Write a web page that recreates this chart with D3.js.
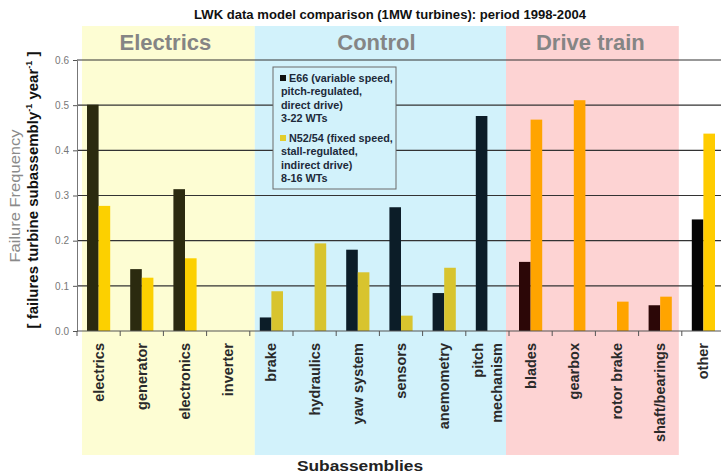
<!DOCTYPE html>
<html>
<head>
<meta charset="utf-8">
<script src="https://cdn.jsdelivr.net/npm/d3@7"></script>
<style>
  html, body { margin: 0; padding: 0; background: #fff; }
  svg { display: block; }
</style>
</head>
<body>
<svg id="chart" width="721" height="474"></svg>
<script>
// ---- data ----
const categories = ["electrics", "generator", "electronics", "inverter", "brake", "hydraulics",
  "yaw system", "sensors", "anemometry", "pitch mechanism", "blades", "gearbox",
  "rotor brake", "shaft/bearings", "other"];
const seriesNames = ["E66", "N52/54"];
const e66Values = [0.501, 0.137, 0.314, 0, 0.030, 0, 0.180, 0.274, 0.084, 0.476, 0.153, 0, 0, 0.057, 0.247];
const n52Values = [0.277, 0.118, 0.161, 0, 0.088, 0.194, 0.130, 0.034, 0.140, 0, 0.468, 0.511, 0.065, 0.076, 0.437];
const groupNames = ["Electrics", "Control", "Drive train"];
const groupFirst = ["electrics", "brake", "blades"];
const groupLast = ["inverter", "pitch mechanism", "shaft/bearings"];
const yTicks = [0, 0.1, 0.2, 0.3, 0.4, 0.5, 0.6];
const legendLines = [
  ["E66 (variable speed,", "pitch-regulated,", "direct drive)", "3-22 WTs"],
  ["N52/54 (fixed speed,", "stall-regulated,", "indirect drive)", "8-16 WTs"]
];
const titleText = "LWK data model comparison (1MW turbines): period 1998-2004";

// ---- styles ----
const groupFill = { "Electrics": "#fdfdd3", "Control": "#d2f2fb", "Drive train": "#fdd3d3" };
const barColors = {
  "Electrics": ["#2b2a0f", "#fcd000"],
  "Control": ["#0c1d28", "#d8c42e"],
  "Drive train": ["#2c0707", "#ffa400"],
  "none": ["#050505", "#ffcc00"]
};
const FONT = "Liberation Sans, Arial, sans-serif";

const svg = d3.select("#chart");
const W = 721;
const x0 = 77, step = 43.2;
const x = d3.scaleBand().domain(categories).range([x0, x0 + step * categories.length]).padding(0);
const xs = d3.scaleBand().domain(seriesNames).range([10, x.bandwidth() - 10]).padding(0);
const y = d3.scaleLinear().domain([0, 0.6]).range([331, 60]);

function groupOf(c) {
  const i = categories.indexOf(c);
  for (let g = 0; g < groupNames.length; g++) {
    const a = categories.indexOf(groupFirst[g]), b = categories.indexOf(groupLast[g]);
    if (i >= a && i <= b) return groupNames[g];
  }
  return "none";
}

// group background bands
const bandAdj = [[5, 5], [5, -3], [-3, -3]];
const titleShift = [-3, -4, -2];
groupNames.forEach((g, i) => {
  const left = x(groupFirst[i]) + bandAdj[i][0];
  const right = x(groupLast[i]) + x.bandwidth() + bandAdj[i][1];
  svg.append("rect").attr("x", left).attr("y", 26).attr("width", right - left).attr("height", 455 - 26)
    .attr("fill", groupFill[g]);
  svg.append("text").attr("x", (left + right) / 2 + titleShift[i]).attr("y", 50).attr("text-anchor", "middle")
    .attr("font-family", FONT).attr("font-weight", "bold")
    .attr("font-size", 22).attr("fill", "#858585").text(g);
});

// title
svg.append("text").attr("x", 390).attr("y", 19).attr("text-anchor", "middle")
  .attr("font-family", FONT).attr("font-weight", "bold").attr("font-size", 12.5)
  .attr("textLength", 392).attr("lengthAdjust", "spacingAndGlyphs")
  .attr("fill", "#111").text(titleText);

// gridlines
svg.append("g").selectAll("line").data(yTicks.filter(d => d > 0)).join("line")
  .attr("x1", x0).attr("x2", W).attr("y1", d => y(d)).attr("y2", d => y(d))
  .attr("stroke", "#333").attr("stroke-width", 1.2);

// bars
const barData = [];
categories.forEach((c, i) => {
  barData.push({ c, s: seriesNames[0], v: e66Values[i], k: 0 });
  barData.push({ c, s: seriesNames[1], v: n52Values[i], k: 1 });
});
svg.append("g").selectAll("rect").data(barData.filter(d => d.v > 0)).join("rect")
  .attr("x", d => x(d.c) + xs(d.s))
  .attr("width", xs.bandwidth())
  .attr("y", d => y(d.v))
  .attr("height", d => y(0) - y(d.v))
  .attr("fill", d => barColors[groupOf(d.c)][d.k]);

// y axis
const yAxis = svg.append("g").attr("transform", `translate(${x0},0)`)
  .call(d3.axisLeft(y).tickValues(yTicks).tickFormat(d3.format(".1f")).tickSize(4).tickPadding(4));
yAxis.select(".domain").attr("stroke", "#777");
yAxis.selectAll(".tick line").attr("stroke", "#555");
yAxis.selectAll("text").attr("font-family", FONT)
  .attr("font-size", 10).attr("fill", "#777");

// x axis line and boundary ticks
svg.append("line").attr("x1", x0).attr("x2", W).attr("y1", y(0)).attr("y2", y(0))
  .attr("stroke", "#555").attr("stroke-width", 1.2);
svg.append("g").selectAll("line").data(categories).join("line")
  .attr("x1", d => x(d)).attr("x2", d => x(d))
  .attr("y1", y(0)).attr("y2", y(0) + 5).attr("stroke", "#555");

// x labels
const xl = svg.append("g");
categories.forEach(c => {
  const parts = c === "pitch mechanism" ? ["pitch", "mechanism"] : [c];
  const cx = x(c) + x.bandwidth() / 2;
  const t = xl.append("text")
    .attr("transform", `translate(${cx},343) rotate(-90)`)
    .attr("text-anchor", "end")
    .attr("font-family", FONT).attr("font-weight", "bold")
    .attr("font-size", 14.5).attr("fill", "#2a2a2a");
  if (parts.length === 1) {
    t.append("tspan").attr("x", 0).attr("dy", "0.35em").text(parts[0]);
  } else {
    t.append("tspan").attr("x", 0).attr("dy", "-0.3em").text(parts[0]);
    t.append("tspan").attr("x", 0).attr("dy", "1.3em").text(parts[1]);
  }
});

// x title
svg.append("text").attr("x", 360).attr("y", 471).attr("text-anchor", "middle")
  .attr("font-family", FONT).attr("font-weight", "bold").attr("font-size", 14)
  .attr("textLength", 126).attr("lengthAdjust", "spacingAndGlyphs")
  .attr("fill", "#222").text("Subassemblies");

// y titles
svg.append("text").attr("transform", "translate(20,196) rotate(-90)").attr("text-anchor", "middle")
  .attr("font-family", FONT).attr("font-size", 15)
  .attr("textLength", 133).attr("lengthAdjust", "spacingAndGlyphs")
  .attr("fill", "#8a8a8a").text("Failure Frequency");
const yt = svg.append("text").attr("transform", "translate(38,190) rotate(-90)").attr("text-anchor", "middle")
  .attr("font-family", FONT).attr("font-weight", "bold")
  .attr("font-size", 15).attr("fill", "#111");
yt.append("tspan").text("[ failures turbine subassembly");
yt.append("tspan").attr("dy", -6).attr("font-size", 9).text("-1");
yt.append("tspan").attr("dy", 6).text(" year");
yt.append("tspan").attr("dy", -6).attr("font-size", 9).text("-1");
yt.append("tspan").attr("dy", 6).text(" ]");

// legend
const lg = svg.append("g").attr("transform", "translate(273,67)");
lg.append("rect").attr("width", 123).attr("height", 122)
  .attr("fill", "#d2f2fb").attr("stroke", "#6a6a6a").attr("stroke-width", 1);
const legendSw = ["#111", "#e2cd2c"];
legendLines.forEach((lines, s) => {
  const top = 15 + s * 60;
  lg.append("rect").attr("x", 7).attr("y", top - 7).attr("width", 6).attr("height", 6).attr("fill", legendSw[s]);
  lines.forEach((ln, j) => {
    lg.append("text").attr("x", j === 0 ? 16 : 8).attr("y", top + j * 13.3)
      .attr("font-family", FONT).attr("font-weight", "bold")
      .attr("font-size", 10.8).attr("fill", "#1d2a3a").text(ln);
  });
});
</script>
</body>
</html>
